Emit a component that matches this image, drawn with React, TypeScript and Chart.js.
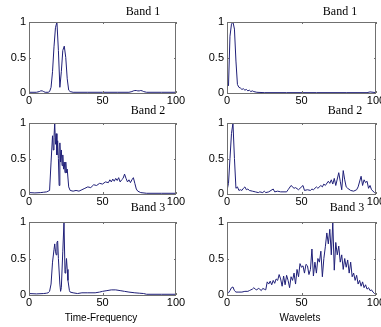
import React, { useEffect, useRef } from 'react';
import { Chart, registerables } from 'chart.js';

Chart.register(...registerables);

// ---------- data ----------
const xTicks = [0, 50, 100];
const yTicks = [0, 0.5, 1];
const panelTitles = ['Band 1', 'Band 1', 'Band 2', 'Band 2', 'Band 3', 'Band 3'];
const xAxisLabels = ['Time-Frequency', 'Wavelets'];

const tfBand1X = [0, 5, 7, 8, 9, 10, 11, 13, 14, 15, 16, 17, 18, 19, 20, 21, 22, 23, 24, 25, 26, 27, 28, 30, 40, 50, 60, 68, 70, 71, 72, 73, 74, 75, 76, 77, 78, 80, 90, 100];
const tfBand1Y = [0.01, 0.01, 0.02, 0.03, 0.03, 0.02, 0.01, 0.01, 0.02, 0.08, 0.3, 0.65, 0.92, 1.0, 0.6, 0.08, 0.3, 0.6, 0.66, 0.5, 0.2, 0.04, 0.02, 0.01, 0.01, 0.01, 0.01, 0.01, 0.02, 0.03, 0.035, 0.035, 0.03, 0.03, 0.035, 0.03, 0.02, 0.01, 0.01, 0.01];

const wvBand1X = [1, 2, 3, 4, 5, 6, 7, 8, 9, 10, 11, 12, 13, 14, 15, 16, 17, 18, 20, 25, 40, 60, 80, 94, 96, 98, 100];
const wvBand1Y = [0.1, 0.8, 0.97, 1.0, 0.9, 0.45, 0.12, 0.08, 0.07, 0.05, 0.06, 0.04, 0.05, 0.03, 0.04, 0.02, 0.03, 0.02, 0.01, 0.005, 0.005, 0.005, 0.005, 0.005, 0.015, 0.01, 0.005];

const tfBand2X = [0, 4, 8, 10, 12, 13, 14, 15, 16, 16.5, 17, 17.5, 18, 18.5, 19, 19.5, 20, 20.5, 21, 21.5, 22, 22.5, 23, 23.5, 24, 24.5, 25, 25.5, 26, 27, 28, 30, 32, 34, 36, 38, 40, 42, 44, 46, 48, 50, 52, 54, 55, 56, 57, 58, 59, 60, 61, 62, 63, 64, 65, 66, 67, 68, 69, 70, 71, 72, 73, 74, 76, 80, 90, 100];
const tfBand2Y = [0.02, 0.015, 0.02, 0.025, 0.03, 0.04, 0.05, 0.45, 0.82, 0.62, 0.8, 1.0, 0.7, 0.85, 0.55, 0.75, 0.5, 0.12, 0.72, 0.45, 0.62, 0.4, 0.55, 0.35, 0.45, 0.3, 0.45, 0.3, 0.35, 0.1, 0.05, 0.04, 0.05, 0.04, 0.06, 0.08, 0.1, 0.09, 0.13, 0.12, 0.15, 0.14, 0.17, 0.16, 0.2, 0.17, 0.21, 0.18, 0.22, 0.19, 0.23, 0.17, 0.2, 0.22, 0.28, 0.22, 0.17, 0.2, 0.16, 0.2, 0.23, 0.15, 0.07, 0.04, 0.02, 0.01, 0.01, 0.01];

const wvBand2X = [0, 1, 2, 3, 4, 5, 6, 7, 8, 9, 10, 11, 12, 13, 14, 15, 17, 19, 21, 22, 24, 25, 26, 28, 31, 32, 34, 36, 40, 41, 43, 45, 46, 48, 49, 51, 52, 54, 56, 57, 58, 60, 61, 63, 64, 65, 66, 68, 69, 70, 71, 72, 73, 75, 76, 77, 78, 79, 80, 81, 83, 85, 87, 88, 90, 91, 92, 93, 94, 95, 96, 97, 98, 99, 100];
const wvBand2Y = [0.05, 0.15, 0.5, 0.85, 1.0, 0.5, 0.08, 0.1, 0.05, 0.06, 0.05, 0.08, 0.1, 0.06, 0.07, 0.05, 0.04, 0.03, 0.02, 0.03, 0.02, 0.04, 0.02, 0.03, 0.07, 0.03, 0.04, 0.03, 0.03, 0.06, 0.12, 0.08, 0.09, 0.06, 0.08, 0.12, 0.05, 0.06, 0.05, 0.07, 0.06, 0.1, 0.08, 0.12, 0.1, 0.14, 0.12, 0.18, 0.15, 0.2, 0.14, 0.22, 0.12, 0.3, 0.18, 0.06, 0.33, 0.2, 0.1, 0.08, 0.05, 0.04, 0.06, 0.1, 0.25, 0.12, 0.2, 0.16, 0.18, 0.08, 0.12, 0.06, 0.04, 0.02, 0.01];

const tfBand3X = [0, 5, 10, 12, 13, 14, 15, 16, 17, 17.5, 18, 18.5, 19, 19.5, 20, 21, 21.5, 22, 23, 23.8, 24.5, 25, 25.5, 26, 26.5, 27.5, 28, 30, 33, 36, 40, 45, 48, 50, 53, 56, 59, 62, 65, 68, 72, 75, 78, 80, 90, 100];
const tfBand3Y = [0.02, 0.015, 0.02, 0.025, 0.03, 0.05, 0.15, 0.45, 0.62, 0.7, 0.6, 0.55, 0.72, 0.74, 0.5, 0.15, 0.05, 0.1, 0.6, 1.0, 0.3, 0.35, 0.5, 0.35, 0.2, 0.06, 0.04, 0.03, 0.02, 0.03, 0.03, 0.03, 0.04, 0.05, 0.06, 0.07, 0.07, 0.06, 0.05, 0.04, 0.03, 0.025, 0.02, 0.01, 0.01, 0.01];

const wvBand3X = [0, 1, 2, 3, 4, 5, 6, 8, 10, 12, 14, 15, 16, 17, 18, 19, 20, 21, 22, 23, 24, 25, 26, 27, 28, 29, 30, 31, 32, 33, 34, 35, 36, 37, 38, 39, 40, 41, 42, 43, 44, 45, 46, 47, 48, 49, 50, 51, 52, 53, 54, 55, 56, 57, 58, 59, 60, 61, 62, 63, 64, 65, 66, 67, 68, 69, 70, 71, 72, 73, 74, 75, 76, 77, 78, 79, 80, 81, 82, 83, 84, 85, 86, 87, 88, 89, 90, 91, 92, 93, 94, 95, 96, 97, 98, 99, 100];
const wvBand3Y = [0.01, 0.03, 0.06, 0.1, 0.11, 0.06, 0.04, 0.04, 0.04, 0.05, 0.05, 0.06, 0.07, 0.08, 0.1, 0.08, 0.07, 0.09, 0.08, 0.06, 0.09, 0.08, 0.07, 0.18, 0.15, 0.19, 0.14, 0.2, 0.16, 0.22, 0.2, 0.28, 0.22, 0.12, 0.26, 0.14, 0.27, 0.2, 0.1, 0.25, 0.2, 0.3, 0.15, 0.35, 0.25, 0.43, 0.38, 0.4, 0.3, 0.42, 0.4, 0.28, 0.35, 0.63, 0.26, 0.45, 0.3, 0.5, 0.45, 0.6, 0.25, 0.5, 0.66, 0.85, 0.7, 0.9, 0.55, 1.0, 0.34, 0.72, 0.55, 0.67, 0.45, 0.55, 0.35, 0.5, 0.38, 0.48, 0.3, 0.45, 0.25, 0.3, 0.2, 0.27, 0.15, 0.2, 0.12, 0.18, 0.1, 0.14, 0.08, 0.1, 0.06, 0.07, 0.04, 0.02, 0.01];

// ---------- layout ----------
const W = 381;
const H = 327;
const LINE = '#1f1f78';
const BOX = '#707070';

const seriesX = [tfBand1X, wvBand1X, tfBand2X, wvBand2X, tfBand3X, wvBand3X];
const seriesY = [tfBand1Y, wvBand1Y, tfBand2Y, wvBand2Y, tfBand3Y, wvBand3Y];
// [left, top, right, bottom] of each axes box
const boxes = [
  [29, 22, 176, 93],
  [227, 22, 376, 93],
  [29, 123, 176, 194],
  [227, 123, 376, 194],
  [29, 222, 176, 295],
  [227, 222, 376, 295],
];
const titlePos = [
  [143, 12],
  [340, 12],
  [148, 111],
  [345, 111],
  [148, 208],
  [347, 208],
];
const xlabelPos = [
  [101, 318],
  [300, 318],
];

function makeChart(canvas: HTMLCanvasElement, i: number) {
  const [L, T, R, B] = boxes[i];
  const xs = seriesX[i];
  const ys = seriesY[i];
  const pts = xs.map((x, k) => ({ x, y: ys[k] }));
  const isBottom = i >= 4;
  const decor = {
    id: 'decor' + i,
    afterDraw(chart: any) {
      const ctx = chart.ctx;
      const a = chart.chartArea;
      const xs_ = chart.scales.x;
      const ys_ = chart.scales.y;
      ctx.save();
      ctx.strokeStyle = BOX;
      ctx.lineWidth = 1;
      ctx.strokeRect(Math.round(a.left) + 0.5, Math.round(a.top) + 0.5, Math.round(a.right - a.left) - 1, Math.round(a.bottom - a.top));
      ctx.beginPath();
      for (const v of xTicks) {
        const px = Math.round(xs_.getPixelForValue(v)) + 0.5;
        ctx.moveTo(px, a.top);
        ctx.lineTo(px, a.top + 2);
        ctx.moveTo(px, a.bottom);
        ctx.lineTo(px, a.bottom - 2);
      }
      for (const v of yTicks) {
        const py = Math.round(ys_.getPixelForValue(v)) + 0.5;
        ctx.moveTo(a.left, py);
        ctx.lineTo(a.left + 2, py);
        ctx.moveTo(a.right, py);
        ctx.lineTo(a.right - 2, py);
      }
      ctx.stroke();
      ctx.fillStyle = '#000';
      ctx.textAlign = 'center';
      ctx.textBaseline = 'middle';
      ctx.font = '12px "Liberation Serif"';
      ctx.fillText(panelTitles[i], titlePos[i][0], titlePos[i][1]);
      if (isBottom) {
        ctx.font = '10px "Liberation Sans"';
        const j = i - 4;
        ctx.fillText(xAxisLabels[j], xlabelPos[j][0], xlabelPos[j][1]);
      }
      ctx.restore();
    },
  };
  return new Chart(canvas, {
    type: 'line',
    data: {
      datasets: [
        {
          data: pts,
          borderColor: LINE,
          borderWidth: 1,
          pointRadius: 0,
          tension: 0,
          fill: false,
        },
      ],
    },
    options: {
      animation: false,
      responsive: false,
      devicePixelRatio: 1,
      events: [],
      layout: {
        padding: { left: L - 30, top: T, right: W - R, bottom: H - B - 14 },
      },
      plugins: { legend: { display: false }, tooltip: { enabled: false }, title: { display: false } },
      scales: {
        x: {
          type: 'linear',
          min: 0,
          max: 100,
          grid: { display: false, drawTicks: false },
          border: { display: false },
          afterBuildTicks: (s: any) => {
            s.ticks = xTicks.map((v) => ({ value: v }));
          },
          afterFit: (s: any) => {
            s.height = 14;
            s.paddingLeft = 0;
            s.paddingRight = 0;
            s.paddingTop = 0;
            s.paddingBottom = 0;
          },
          ticks: {
            autoSkip: false,
            maxRotation: 0,
            padding: 1,
            color: '#000',
            font: { family: 'Liberation Sans', size: 11 },
            callback: (v: any) => String(v),
          },
        },
        y: {
          type: 'linear',
          min: 0,
          max: 1,
          grid: { display: false, drawTicks: false },
          border: { display: false },
          afterBuildTicks: (s: any) => {
            s.ticks = yTicks.map((v) => ({ value: v }));
          },
          afterFit: (s: any) => {
            s.width = 30;
            s.paddingLeft = 0;
            s.paddingRight = 0;
            s.paddingTop = 0;
            s.paddingBottom = 0;
          },
          ticks: {
            autoSkip: false,
            padding: 3,
            color: '#000',
            font: { family: 'Liberation Sans', size: 11 },
            callback: (v: any) => String(v),
          },
        },
      },
    },
    plugins: [decor],
  });
}

export default function App() {
  const refs = useRef<(HTMLCanvasElement | null)[]>([]);
  useEffect(() => {
    const charts: Chart[] = [];
    refs.current.forEach((c, i) => {
      if (c) charts.push(makeChart(c, i));
    });
    return () => charts.forEach((c) => c.destroy());
  }, []);
  return (
    <div style={{ position: 'fixed', left: 0, top: 0, width: W, height: H, background: '#fff', overflow: 'hidden' }}>
      {boxes.map((_, i) => (
        <canvas
          key={i}
          ref={(el) => {
            refs.current[i] = el;
          }}
          width={W}
          height={H}
          style={{ position: 'absolute', left: 0, top: 0, width: W, height: H }}
        />
      ))}
    </div>
  );
}
